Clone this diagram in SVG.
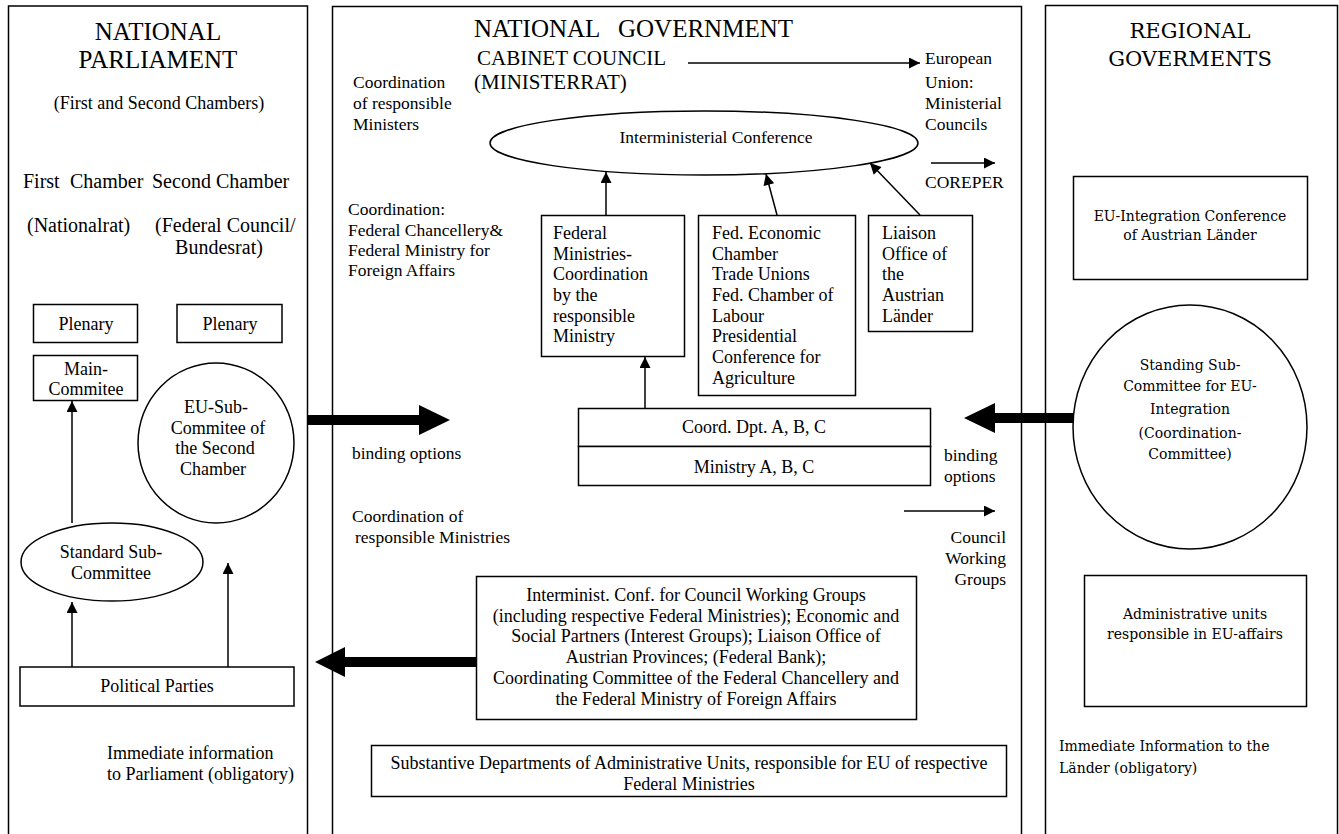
<svg xmlns="http://www.w3.org/2000/svg" width="1339" height="834" viewBox="0 0 1339 834">
<style>
text{font-family:"Liberation Serif","Times New Roman",serif;font-size:18px;fill:#000}
.h{font-size:25px}
.h2{font-size:21px}
.s{font-size:17.5px}
.c{text-anchor:middle}
.e{text-anchor:end}
.r{font-family:"DejaVu Serif","Liberation Serif",serif;font-size:14px}
.rh{font-family:"DejaVu Serif","Liberation Serif",serif;font-size:21px;text-anchor:middle}
.box{fill:#fff;stroke:#000;stroke-width:1.5}
.panel{fill:#fff;stroke:#000;stroke-width:1.5}
.ln{fill:none;stroke:#000;stroke-width:1.5}
.big{fill:#000}
</style>
<defs>
<marker id="ah" viewBox="0 0 10 10" refX="10" refY="5" markerUnits="userSpaceOnUse" markerWidth="12" markerHeight="11" orient="auto">
<path d="M0,0 L10,5 L0,10 z" fill="#000"/>
</marker>
</defs>
<rect width="1339" height="834" fill="#fff"/>

<g id="panel-parliament">
<rect class="panel" x="8.5" y="6" width="299" height="840"/>
<text class="h c" x="158" y="40">NATIONAL</text>
<text class="h c" x="158" y="68">PARLIAMENT</text>
<text class="c" x="159" y="109">(First and Second Chambers)</text>
<text x="23" y="188" style="font-size:20px">First</text>
<text x="70" y="188" style="font-size:20px">Chamber</text>
<text x="152" y="188" style="font-size:20px">Second Chamber</text>
<text x="27" y="232" style="font-size:20px">(Nationalrat)</text>
<text x="155" y="232" style="font-size:20px">(Federal Council/</text>
<text class="c" x="219" y="254" style="font-size:20px">Bundesrat)</text>
</g>
<g id="plenary-1"><rect class="box" x="33.5" y="304.5" width="104" height="38"/><text class="c" x="86" y="330">Plenary</text></g>
<g id="plenary-2"><rect class="box" x="177" y="304.5" width="105" height="38"/><text class="c" x="230" y="330">Plenary</text></g>
<g id="main-committee"><rect class="box" x="33.5" y="355.5" width="104" height="45"/><text class="c" x="86" y="375">Main-</text><text class="c" x="86" y="395">Commitee</text></g>
<g id="eu-sub-committee"><ellipse class="box" cx="216" cy="443" rx="78" ry="80"/>
<text class="c" x="216" y="413">EU-Sub-</text><text class="c" x="218" y="434">Commitee of</text><text class="c" x="215" y="454">the Second</text><text class="c" x="213" y="475">Chamber</text></g>
<g id="standard-sub-committee"><ellipse class="box" cx="112" cy="562" rx="91" ry="39"/>
<text class="c" x="111" y="558">Standard Sub-</text><text class="c" x="111" y="579">Committee</text></g>
<g id="political-parties"><rect class="box" x="20" y="667" width="274" height="39"/><text class="c" x="157" y="692">Political Parties</text></g>
<g id="info-parliament"><text x="107" y="759">Immediate information</text><text x="107" y="780">to Parliament (obligatory)</text></g>

<g id="panel-government">
<rect class="panel" x="332.5" y="6.5" width="689" height="840"/>
<text class="h" x="474" y="37">NATIONAL</text>
<text class="h" x="618" y="37">GOVERNMENT</text>
<text class="h2" x="477" y="65">CABINET COUNCIL</text>
<text class="h2" x="474" y="89">(MINISTERRAT)</text>
<text class="s" x="353" y="88">Coordination</text>
<text class="s" x="353" y="109">of responsible</text>
<text class="s" x="353" y="130">Ministers</text>
<text class="s" x="348" y="215">Coordination:</text>
<text class="s" x="348" y="236">Federal Chancellery&amp;</text>
<text class="s" x="348" y="256">Federal Ministry for</text>
<text class="s" x="348" y="276">Foreign Affairs</text>
<text class="s" x="352" y="459">binding options</text>
<text class="s" x="352" y="522">Coordination of</text>
<text class="s" x="355" y="543">responsible Ministries</text>
</g>
<g id="eu-labels">
<text class="s" x="925" y="64">European</text>
<text class="s" x="925" y="88">Union:</text>
<text class="s" x="925" y="109">Ministerial</text>
<text class="s" x="925" y="130">Councils</text>
<text class="s" x="925" y="188">COREPER</text>
<text class="s" x="944" y="461">binding</text>
<text class="s" x="944" y="482">options</text>
<text class="s e" x="1006" y="543">Council</text>
<text class="s e" x="1006" y="564">Working</text>
<text class="s e" x="1006" y="585">Groups</text>
</g>
<g id="interministerial-conference"><ellipse class="box" cx="704" cy="143" rx="214" ry="32"/><text class="s c" x="716" y="143">Interministerial Conference</text></g>
<g id="federal-ministries"><rect class="box" x="541.5" y="215.5" width="143" height="141"/>
<text x="553" y="239">Federal</text><text x="553" y="260">Ministries-</text><text x="553" y="280">Coordination</text><text x="553" y="301">by the</text><text x="553" y="322">responsible</text><text x="553" y="342">Ministry</text></g>
<g id="social-partners"><rect class="box" x="698.5" y="215.5" width="157" height="180"/>
<text x="712" y="239">Fed. Economic</text><text x="712" y="260">Chamber</text><text x="712" y="280">Trade Unions</text><text x="712" y="301">Fed. Chamber of</text><text x="712" y="322">Labour</text><text x="712" y="342">Presidential</text><text x="712" y="363">Conference for</text><text x="712" y="384">Agriculture</text></g>
<g id="liaison-office"><rect class="box" x="868.5" y="215.5" width="104" height="116"/>
<text x="882" y="239">Liaison</text><text x="882" y="260">Office of</text><text x="882" y="280">the</text><text x="882" y="301">Austrian</text><text x="882" y="322">Länder</text></g>
<g id="coord-dpt"><rect class="box" x="578.5" y="408.5" width="352" height="38"/><text class="c" x="754" y="433">Coord. Dpt. A, B, C</text></g>
<g id="ministry"><rect class="box" x="578.5" y="446.5" width="352" height="39"/><text class="c" x="754" y="473">Ministry A, B, C</text></g>
<g id="working-groups-conference"><rect class="box" x="476.5" y="576.5" width="440" height="143"/>
<text class="c" x="696" y="601">Interminist. Conf. for Council Working Groups</text>
<text class="c" x="696" y="622">(including respective Federal Ministries); Economic and</text>
<text class="c" x="696" y="642">Social Partners (Interest Groups); Liaison Office of</text>
<text class="c" x="696" y="663">Austrian Provinces; (Federal Bank);</text>
<text class="c" x="696" y="684">Coordinating Committee of the Federal Chancellery and</text>
<text class="c" x="696" y="705">the Federal Ministry of Foreign Affairs</text></g>
<g id="substantive-departments"><rect class="box" x="371.5" y="745.5" width="635" height="51"/>
<text class="c" x="689" y="769">Substantive Departments of Administrative Units, responsible for EU of respective</text>
<text class="c" x="689" y="790">Federal Ministries</text></g>

<g id="panel-regional">
<rect class="panel" x="1045.5" y="5.5" width="292" height="840"/>
<text class="rh" x="1190" y="38">REGIONAL</text>
<text class="rh" x="1190" y="66">GOVERMENTS</text>
</g>
<g id="eu-integration-conference"><rect class="box" x="1073.5" y="176.5" width="234" height="103"/>
<text class="r c" x="1190" y="221">EU-Integration Conference</text><text class="r c" x="1190" y="240">of Austrian Länder</text></g>
<g id="standing-sub-committee"><ellipse class="box" cx="1190" cy="427" rx="117" ry="122"/>
<text class="r c" x="1190" y="370">Standing Sub-</text><text class="r c" x="1190" y="391">Committee for EU-</text><text class="r c" x="1190" y="414">Integration</text><text class="r c" x="1190" y="438">(Coordination-</text><text class="r c" x="1190" y="459">Committee)</text></g>
<g id="administrative-units"><rect class="box" x="1084.5" y="575.5" width="222" height="131"/>
<text class="r c" x="1195" y="619">Administrative units</text><text class="r c" x="1195" y="639">responsible in EU-affairs</text></g>
<g id="info-laender"><text class="r" x="1059" y="751">Immediate Information to the</text><text class="r" x="1059" y="773">Länder (obligatory)</text></g>

<g id="connectors">
<line class="ln" x1="688" y1="63" x2="920" y2="63" marker-end="url(#ah)"/>
<line class="ln" x1="931" y1="163" x2="995" y2="163" marker-end="url(#ah)"/>
<line class="ln" x1="606" y1="215" x2="606" y2="172" marker-end="url(#ah)"/>
<line class="ln" x1="777" y1="215" x2="766" y2="174" marker-end="url(#ah)"/>
<line class="ln" x1="920" y1="215" x2="870" y2="163" marker-end="url(#ah)"/>
<line class="ln" x1="645" y1="408" x2="645" y2="357" marker-end="url(#ah)"/>
<line class="ln" x1="904" y1="511" x2="995" y2="511" marker-end="url(#ah)"/>
<line class="ln" x1="72" y1="523" x2="72" y2="401" marker-end="url(#ah)"/>
<line class="ln" x1="72" y1="667" x2="72" y2="602" marker-end="url(#ah)"/>
<line class="ln" x1="228" y1="667" x2="228" y2="563" marker-end="url(#ah)"/>
<polygon class="big" points="308,415 419,415 419,405 450,420 419,435 419,425 308,425"/>
<polygon class="big" points="476,657 345,657 345,647 315,662 345,677 345,667 476,667"/>
<polygon class="big" points="1073,413 995,413 995,403 964,418 995,433 995,423 1073,423"/>
</g>
</svg>
